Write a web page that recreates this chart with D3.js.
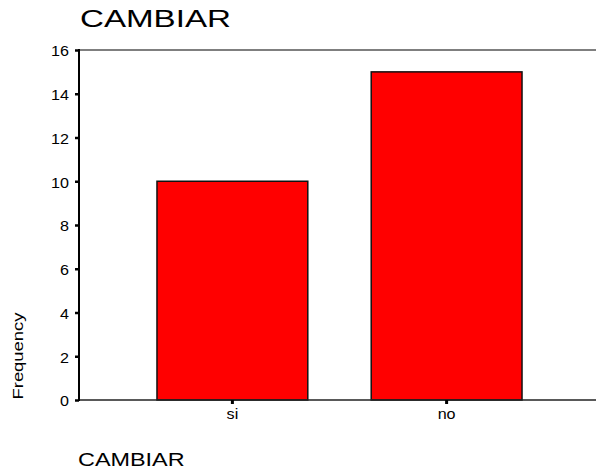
<!DOCTYPE html>
<html>
<head>
<meta charset="utf-8">
<script src="https://cdn.jsdelivr.net/npm/d3@7"></script>
<style>
  body { margin: 0; background: #fff; }
  text { font-family: "Liberation Sans", Arial, sans-serif; fill: #000; }
</style>
</head>
<body>
<div id="chart"></div>
<script>
var categories = ["si", "no"];
var frequencies = [10, 15];
var yTicks = [0, 2, 4, 6, 8, 10, 12, 14, 16];
var titleText = "CAMBIAR";
var xLabel = "CAMBIAR";
var yLabel = "Frequency";

var margin = {top: 50, right: 0, bottom: 72, left: 79},
    width = 596 - margin.left - margin.right,
    height = 472 - margin.top - margin.bottom;

var svg = d3.select("#chart")
    .append("svg")
    .attr("width", 596)
    .attr("height", 472);

var chart = svg.append("g")
    .attr("transform", "translate(" + margin.left + "," + margin.top + ")");

var x = d3.scaleBand()
    .domain(categories)
    .range([0, 521])
    .paddingInner(0.296)
    .paddingOuter(0.364);

var y = d3.scaleLinear()
    .domain([0, 16])
    .range([height, 0]);

// top frame line
chart.append("line")
    .attr("x1", 0).attr("x2", width)
    .attr("y1", y(16)).attr("y2", y(16))
    .attr("stroke", "#555")
    .attr("stroke-width", 1.5);

// bars
chart.selectAll(".bar")
    .data(frequencies)
  .enter().append("rect")
    .attr("class", "bar")
    .attr("x", function(d, i) { return x(categories[i]); })
    .attr("y", function(d) { return y(d); })
    .attr("width", x.bandwidth())
    .attr("height", function(d) { return y(0) - y(d); })
    .attr("fill", "#ff0000")
    .attr("stroke", "#111")
    .attr("stroke-width", 1.5);

// bottom line
chart.append("line")
    .attr("x1", 0).attr("x2", width)
    .attr("y1", height).attr("y2", height)
    .attr("stroke", "#222")
    .attr("stroke-width", 1.5);

var yAxis = chart.append("g")
    .call(d3.axisLeft(y).tickValues(yTicks).tickSize(4).tickPadding(6).tickFormat(d3.format("d")));
yAxis.select(".domain").remove();
yAxis.selectAll(".tick line").attr("stroke", "#000").attr("stroke-width", 2.5);
yAxis.selectAll("text").attr("font-size", "14px").attr("dy", "0.42em").attr("fill", "#000");

chart.append("line")
    .attr("x1", 0).attr("x2", 0)
    .attr("y1", y(16) - 1).attr("y2", height + 1)
    .attr("stroke", "#000")
    .attr("stroke-width", 2);

var xAxis = chart.append("g")
    .attr("transform", "translate(0," + height + ")")
    .call(d3.axisBottom(x).tickSize(4).tickPadding(5));
xAxis.select(".domain").remove();
xAxis.selectAll(".tick line").attr("stroke", "#000").attr("stroke-width", 3);
xAxis.selectAll("text").attr("font-size", "14px").attr("fill", "#000");

svg.append("text")
    .attr("class", "title")
    .attr("x", 80)
    .attr("y", 27)
    .attr("font-size", "24px")
    .text(titleText);

svg.append("text")
    .attr("class", "xlabel")
    .attr("x", 78)
    .attr("y", 466)
    .attr("font-size", "18px")
    .text(xLabel);

svg.append("text")
    .attr("class", "ylabel")
    .attr("transform", "translate(23,356) rotate(-90)")
    .attr("text-anchor", "middle")
    .attr("font-size", "15px")
    .text(yLabel);

// the source renders text stretched horizontally
svg.selectAll("text").each(function() {
  var t = d3.select(this), w = this.getComputedTextLength();
  if (t.classed("ylabel")) { t.attr("textLength", 87).attr("lengthAdjust", "spacingAndGlyphs"); return; }
  var k = t.classed("title") ? 1.38 : t.classed("xlabel") ? 1.3 : 1.15;
  t.attr("textLength", w * k).attr("lengthAdjust", "spacingAndGlyphs");
});
</script>
</body>
</html>
